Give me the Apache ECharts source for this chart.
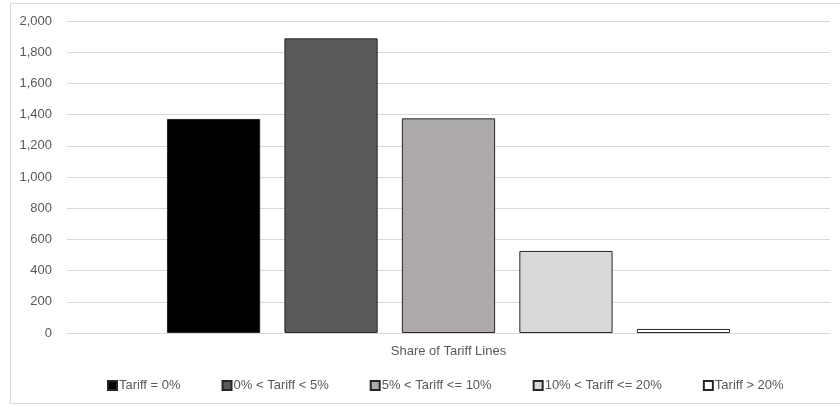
<!DOCTYPE html>
<html>
<head>
<meta charset="utf-8">
<script src="https://cdn.jsdelivr.net/npm/echarts@6/dist/echarts.min.js"></script>
<style>html,body{margin:0;padding:0;background:#fff}#c{width:840px;height:406px}</style>
</head>
<body>
<div id="c"></div>
<script>
const categories = ["Share of Tariff Lines"];
const seriesNames = ["Tariff = 0%", "0% < Tariff < 5%", "5% < Tariff <= 10%", "10% < Tariff <= 20%", "Tariff > 20%"];
const tariff0 = [1372];
const tariffUnder5 = [1889];
const tariff5to10 = [1376];
const tariff10to20 = [526];
const tariffOver20 = [26];
const yTicks = [0, 200, 400, 600, 800, 1000, 1200, 1400, 1600, 1800, 2000];

const seriesData = [tariff0, tariffUnder5, tariff5to10, tariff10to20, tariffOver20];
const fills = ["#000000", "#595959", "#aeaaaa", "#d9d9d9", "#ffffff"];
const font = "'Liberation Sans', Arial, sans-serif";
const txt = "#595959";

const chart = echarts.init(document.getElementById('c'), null, {renderer: 'canvas'});
chart.setOption({
  animation: false,
  backgroundColor: '#fff',
  textStyle: {fontFamily: font},
  graphic: [{
    type: 'rect', shape: {x: 10.5, y: 3.5, width: 840, height: 400},
    style: {fill: 'none', stroke: '#d9d9d9', lineWidth: 1}, silent: true
  }],
  grid: {left: 67, right: 10, top: 21, bottom: 73, containLabel: false},
  legend: {
    bottom: 9, left: 102,
    itemWidth: 9, itemHeight: 9, itemGap: 41, icon: 'rect',
    textStyle: {color: txt, fontSize: 13, fontFamily: font, padding: [0,0,0,-3]},
    data: seriesNames
  },
  xAxis: {
    type: 'category', data: categories,
    axisLine: {lineStyle: {color: '#d9d9d9'}},
    axisTick: {show: false},
    axisLabel: {color: txt, fontSize: 13, margin: 12, fontFamily: font}
  },
  yAxis: {
    type: 'value', min: yTicks[0], max: yTicks[yTicks.length - 1], interval: yTicks[1] - yTicks[0],
    axisLine: {show: false}, axisTick: {show: false},
    splitLine: {lineStyle: {color: '#d9d9d9'}},
    axisLabel: {color: txt, fontSize: 13, margin: 15, fontFamily: font,
      formatter: v => v.toLocaleString('en-US')}
  },
  series: seriesNames.map((n, i) => ({
    name: n, type: 'bar', data: seriesData[i],
    barGap: '26%', barCategoryGap: '26.2%',
    itemStyle: {color: fills[i], borderColor: '#262626', borderWidth: 1}
  }))
});
</script>
</body>
</html>
